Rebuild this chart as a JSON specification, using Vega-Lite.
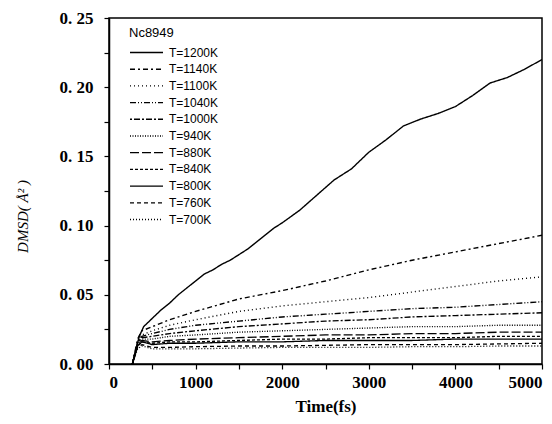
{
  "$schema": "https://vega.github.io/schema/vega-lite/v6.json",
  "autosize": {"type": "none"},
  "padding": {"left": 109, "top": 18, "right": 10, "bottom": 60},
  "width": 433,
  "height": 346,
  "background": "white",
  "config": {
    "view": {"stroke": "black", "strokeWidth": 1.5},
    "axis": {
      "domainColor": "black", "domainWidth": 1.5,
      "tickColor": "black", "tickWidth": 1.2, "tickSize": 5,
      "grid": false,
      "labelFont": "Liberation Serif", "labelFontWeight": "bold", "labelFontSize": 17, "labelColor": "black",
      "titleFont": "Liberation Serif", "titleFontWeight": "bold", "titleFontSize": 17, "titleColor": "black"
    },
    "legend": {
      "titleFont": "Liberation Sans", "titleFontSize": 13, "titleFontWeight": "normal", "titleColor": "black",
      "labelFont": "Liberation Sans", "labelFontSize": 12, "labelColor": "black"
    }
  },
  "data": {"values": [
    {"T":"T=1200K","t":270,"v":0},{"T":"T=1200K","t":300,"v":0.008},{"T":"T=1200K","t":350,"v":0.02},{"T":"T=1200K","t":400,"v":0.027},{"T":"T=1200K","t":500,"v":0.033},{"T":"T=1200K","t":600,"v":0.039},{"T":"T=1200K","t":700,"v":0.044},{"T":"T=1200K","t":800,"v":0.05},{"T":"T=1200K","t":900,"v":0.055},{"T":"T=1200K","t":1000,"v":0.06},{"T":"T=1200K","t":1100,"v":0.065},{"T":"T=1200K","t":1200,"v":0.068},{"T":"T=1200K","t":1300,"v":0.072},{"T":"T=1200K","t":1400,"v":0.075},{"T":"T=1200K","t":1500,"v":0.079},{"T":"T=1200K","t":1600,"v":0.083},{"T":"T=1200K","t":1700,"v":0.088},{"T":"T=1200K","t":1800,"v":0.093},{"T":"T=1200K","t":1900,"v":0.098},{"T":"T=1200K","t":2000,"v":0.102},{"T":"T=1200K","t":2200,"v":0.111},{"T":"T=1200K","t":2400,"v":0.122},{"T":"T=1200K","t":2600,"v":0.133},{"T":"T=1200K","t":2800,"v":0.141},{"T":"T=1200K","t":3000,"v":0.153},{"T":"T=1200K","t":3200,"v":0.162},{"T":"T=1200K","t":3400,"v":0.172},{"T":"T=1200K","t":3600,"v":0.177},{"T":"T=1200K","t":3800,"v":0.181},{"T":"T=1200K","t":4000,"v":0.186},{"T":"T=1200K","t":4200,"v":0.194},{"T":"T=1200K","t":4400,"v":0.203},{"T":"T=1200K","t":4600,"v":0.207},{"T":"T=1200K","t":4800,"v":0.213},{"T":"T=1200K","t":5000,"v":0.22},

    {"T":"T=1140K","t":270,"v":0},{"T":"T=1140K","t":330,"v":0.018},{"T":"T=1140K","t":380,"v":0.024},{"T":"T=1140K","t":500,"v":0.027},{"T":"T=1140K","t":700,"v":0.032},{"T":"T=1140K","t":1000,"v":0.038},{"T":"T=1140K","t":1500,"v":0.047},{"T":"T=1140K","t":2000,"v":0.053},{"T":"T=1140K","t":2500,"v":0.06},{"T":"T=1140K","t":3000,"v":0.068},{"T":"T=1140K","t":3500,"v":0.075},{"T":"T=1140K","t":4000,"v":0.081},{"T":"T=1140K","t":4500,"v":0.087},{"T":"T=1140K","t":5000,"v":0.093},

    {"T":"T=1100K","t":270,"v":0},{"T":"T=1100K","t":330,"v":0.016},{"T":"T=1100K","t":380,"v":0.021},{"T":"T=1100K","t":500,"v":0.024},{"T":"T=1100K","t":700,"v":0.028},{"T":"T=1100K","t":1000,"v":0.032},{"T":"T=1100K","t":1500,"v":0.038},{"T":"T=1100K","t":2000,"v":0.042},{"T":"T=1100K","t":2500,"v":0.045},{"T":"T=1100K","t":3000,"v":0.048},{"T":"T=1100K","t":3500,"v":0.052},{"T":"T=1100K","t":4000,"v":0.056},{"T":"T=1100K","t":4500,"v":0.06},{"T":"T=1100K","t":5000,"v":0.063},

    {"T":"T=1040K","t":270,"v":0},{"T":"T=1040K","t":330,"v":0.015},{"T":"T=1040K","t":380,"v":0.02},{"T":"T=1040K","t":500,"v":0.022},{"T":"T=1040K","t":700,"v":0.025},{"T":"T=1040K","t":1000,"v":0.028},{"T":"T=1040K","t":1500,"v":0.031},{"T":"T=1040K","t":2000,"v":0.034},{"T":"T=1040K","t":2500,"v":0.036},{"T":"T=1040K","t":3000,"v":0.038},{"T":"T=1040K","t":3500,"v":0.04},{"T":"T=1040K","t":4000,"v":0.041},{"T":"T=1040K","t":4500,"v":0.043},{"T":"T=1040K","t":5000,"v":0.045},

    {"T":"T=1000K","t":270,"v":0},{"T":"T=1000K","t":330,"v":0.015},{"T":"T=1000K","t":380,"v":0.019},{"T":"T=1000K","t":500,"v":0.02},{"T":"T=1000K","t":700,"v":0.022},{"T":"T=1000K","t":1000,"v":0.024},{"T":"T=1000K","t":1500,"v":0.027},{"T":"T=1000K","t":2000,"v":0.029},{"T":"T=1000K","t":2500,"v":0.031},{"T":"T=1000K","t":3000,"v":0.032},{"T":"T=1000K","t":3500,"v":0.034},{"T":"T=1000K","t":4000,"v":0.035},{"T":"T=1000K","t":4500,"v":0.036},{"T":"T=1000K","t":5000,"v":0.037},

    {"T":"T=940K","t":270,"v":0},{"T":"T=940K","t":330,"v":0.014},{"T":"T=940K","t":380,"v":0.018},{"T":"T=940K","t":500,"v":0.018},{"T":"T=940K","t":700,"v":0.02},{"T":"T=940K","t":1000,"v":0.021},{"T":"T=940K","t":1500,"v":0.023},{"T":"T=940K","t":2000,"v":0.024},{"T":"T=940K","t":2500,"v":0.025},{"T":"T=940K","t":3000,"v":0.026},{"T":"T=940K","t":3500,"v":0.027},{"T":"T=940K","t":4000,"v":0.027},{"T":"T=940K","t":4500,"v":0.028},{"T":"T=940K","t":5000,"v":0.028},

    {"T":"T=880K","t":270,"v":0},{"T":"T=880K","t":330,"v":0.014},{"T":"T=880K","t":380,"v":0.017},{"T":"T=880K","t":500,"v":0.016},{"T":"T=880K","t":700,"v":0.017},{"T":"T=880K","t":1000,"v":0.018},{"T":"T=880K","t":1500,"v":0.019},{"T":"T=880K","t":2000,"v":0.02},{"T":"T=880K","t":2500,"v":0.021},{"T":"T=880K","t":3000,"v":0.021},{"T":"T=880K","t":3500,"v":0.022},{"T":"T=880K","t":4000,"v":0.022},{"T":"T=880K","t":4500,"v":0.023},{"T":"T=880K","t":5000,"v":0.023},

    {"T":"T=840K","t":270,"v":0},{"T":"T=840K","t":330,"v":0.013},{"T":"T=840K","t":380,"v":0.016},{"T":"T=840K","t":500,"v":0.015},{"T":"T=840K","t":700,"v":0.016},{"T":"T=840K","t":1000,"v":0.016},{"T":"T=840K","t":1500,"v":0.017},{"T":"T=840K","t":2000,"v":0.018},{"T":"T=840K","t":2500,"v":0.018},{"T":"T=840K","t":3000,"v":0.019},{"T":"T=840K","t":3500,"v":0.019},{"T":"T=840K","t":4000,"v":0.019},{"T":"T=840K","t":4500,"v":0.02},{"T":"T=840K","t":5000,"v":0.02},

    {"T":"T=800K","t":270,"v":0},{"T":"T=800K","t":330,"v":0.013},{"T":"T=800K","t":380,"v":0.016},{"T":"T=800K","t":500,"v":0.014},{"T":"T=800K","t":700,"v":0.015},{"T":"T=800K","t":1000,"v":0.015},{"T":"T=800K","t":1500,"v":0.016},{"T":"T=800K","t":2000,"v":0.016},{"T":"T=800K","t":2500,"v":0.017},{"T":"T=800K","t":3000,"v":0.017},{"T":"T=800K","t":3500,"v":0.017},{"T":"T=800K","t":4000,"v":0.018},{"T":"T=800K","t":4500,"v":0.018},{"T":"T=800K","t":5000,"v":0.018},

    {"T":"T=760K","t":270,"v":0},{"T":"T=760K","t":330,"v":0.012},{"T":"T=760K","t":380,"v":0.014},{"T":"T=760K","t":500,"v":0.012},{"T":"T=760K","t":700,"v":0.012},{"T":"T=760K","t":1000,"v":0.0125},{"T":"T=760K","t":1500,"v":0.013},{"T":"T=760K","t":2000,"v":0.013},{"T":"T=760K","t":2500,"v":0.0135},{"T":"T=760K","t":3000,"v":0.014},{"T":"T=760K","t":3500,"v":0.014},{"T":"T=760K","t":4000,"v":0.014},{"T":"T=760K","t":4500,"v":0.0145},{"T":"T=760K","t":5000,"v":0.015},

    {"T":"T=700K","t":270,"v":0},{"T":"T=700K","t":330,"v":0.011},{"T":"T=700K","t":380,"v":0.013},{"T":"T=700K","t":500,"v":0.011},{"T":"T=700K","t":700,"v":0.011},{"T":"T=700K","t":1000,"v":0.011},{"T":"T=700K","t":1500,"v":0.0115},{"T":"T=700K","t":2000,"v":0.012},{"T":"T=700K","t":2500,"v":0.012},{"T":"T=700K","t":3000,"v":0.012},{"T":"T=700K","t":3500,"v":0.0125},{"T":"T=700K","t":4000,"v":0.0125},{"T":"T=700K","t":4500,"v":0.013},{"T":"T=700K","t":5000,"v":0.013}
  ]},
  "mark": {"type": "line", "color": "black", "clip": true},
  "encoding": {
    "x": {
      "field": "t", "type": "quantitative",
      "scale": {"domain": [0, 5000], "nice": false, "zero": false},
      "axis": {
        "title": "Time(fs)",
        "values": [0,500,1000,1500,2000,2500,3000,3500,4000,4500,5000],
        "labelExpr": "datum.value % 1000 === 0 ? datum.label : ''",
        "format": "d",
        "labelPadding": 5,
        "titlePadding": 8,
        "encode": {"ticks": {"update": {"y2": {"value": -5}}}}
      }
    },
    "y": {
      "field": "v", "type": "quantitative",
      "scale": {"domain": [0, 0.25], "nice": false},
      "axis": {
        "title": "DMSD( Å² )",
        "titleFont": "Liberation Serif", "titleFontStyle": "italic", "titleFontWeight": "normal", "titleFontSize": 15,
        "titleX": -87, "titleY": 198, "titleAngle": -90, "titleAlign": "center", "titleBaseline": "middle",
        "values": [0,0.025,0.05,0.075,0.1,0.125,0.15,0.175,0.2,0.225,0.25],
        "labelExpr": "round(datum.value*40) % 2 === 0 ? replace(format(datum.value, '.2f'), '.', '. ') : ''",
        "labelPadding": 11,
        "encode": {"ticks": {"update": {"x2": {"signal": "round(datum.value*40) % 2 === 0 ? -5 : 4"}}}}
      }
    },
    "strokeDash": {
      "field": "T", "type": "nominal",
      "scale": {
        "domain": ["T=1200K","T=1140K","T=1100K","T=1040K","T=1000K","T=940K","T=880K","T=840K","T=800K","T=760K","T=700K"],
        "range": [[1,0],[5,3,2,3],[1,3],[6,2,1,2,1,2],[2,2,6,2],[1,1.5],[9,3],[3,2],[1,0],[4,3],[1,2]]
      },
      "legend": {
        "title": "Nc8949",
        "orient": "none", "legendX": 20, "legendY": 9,
        "symbolType": "M-1,0H5", "symbolSize": 121, "symbolStrokeColor": "black", "symbolStrokeWidth": 1.3, "symbolFillColor": "transparent",
        "labelOffset": 27, "rowPadding": 3.7, "titlePadding": 6, "padding": 0
      }
    },
    "strokeWidth": {
      "field": "T", "type": "nominal",
      "scale": {
        "domain": ["T=1200K","T=1140K","T=1100K","T=1040K","T=1000K","T=940K","T=880K","T=840K","T=800K","T=760K","T=700K"],
        "range": [1.4,1.3,1.3,1.3,1.3,1.3,1.3,1.3,2.2,1.3,1.3]
      },
      "legend": null
    }
  }
}
